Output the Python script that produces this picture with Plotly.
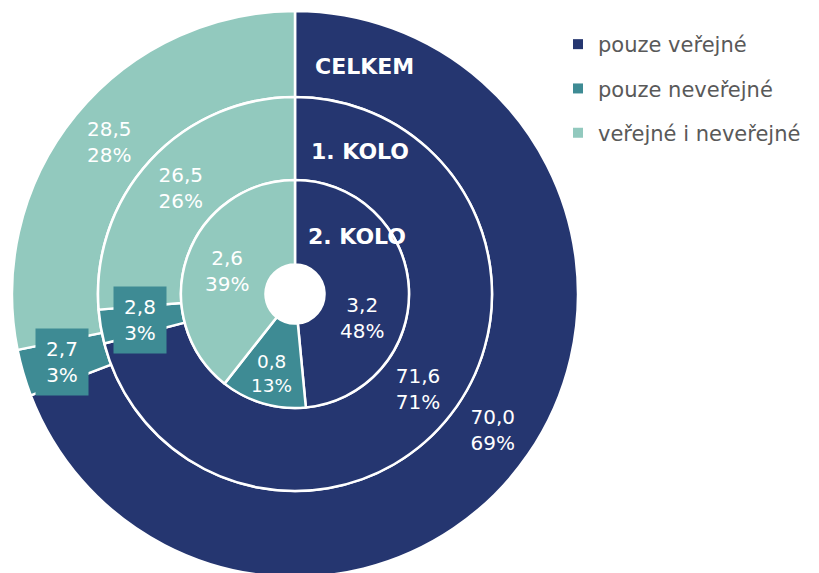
import math
import plotly.graph_objects as go

# ---------------- data ----------------
labels = ["pouze veřejné", "pouze neveřejné", "veřejné i neveřejné"]

celkem_values = [70.0, 2.7, 28.5]
celkem_pct = [69, 3, 28]

kolo1_values = [71.6, 2.8, 26.5]
kolo1_pct = [71, 3, 26]

kolo2_values = [3.2, 0.8, 2.6]
kolo2_pct = [48, 13, 39]

ring_titles = ["CELKEM", "1. KOLO", "2. KOLO"]

# ---------------- style / geometry ----------------
colors = ["#253670", "#3e8b94", "#92c9be"]
W, H = 819, 573
OFF = 8                    # page body margin
CXP, CYP = 295, 294        # pie centre on the page (px from top-left)
CX = CXP - OFF             # in figure px from left
CY = H - (CYP - OFF)       # in figure px from bottom
R_OUT, R_MID, R_IN, R_HOLE = 283, 197, 114, 29.5
FONT = "DejaVu Sans"


def dom(r):
    return dict(x=[(CX - r) / W, (CX + r) / W], y=[(CY - r) / H, (CY + r) / H])


def fmt(v):
    return f"{v:.1f}".replace(".", ",")


def ring(values, pct, r, r_in, custom):
    texts = ["" if i in custom else f"{fmt(v)}<br>{p}%"
             for i, (v, p) in enumerate(zip(values, pct))]
    return go.Pie(
        labels=labels, values=values, text=texts, textinfo="text",
        textposition="inside", insidetextorientation="horizontal",
        textfont=dict(family=FONT, size=20, color="white"),
        sort=False, direction="clockwise", rotation=0,
        hole=r_in / r, domain=dom(r),
        marker=dict(colors=colors, line=dict(color="white", width=2.5)),
        showlegend=False, hoverinfo="label+value+percent",
    )


fig = go.Figure()
fig.add_trace(ring(celkem_values, celkem_pct, R_OUT, R_MID, custom={1}))
fig.add_trace(ring(kolo1_values, kolo1_pct, R_MID, R_IN, custom={1}))
fig.add_trace(ring(kolo2_values, kolo2_pct, R_IN, R_HOLE, custom={0}))

# legend entries
for lab, col in zip(labels, colors):
    fig.add_trace(go.Scatter(
        x=[None], y=[None], mode="markers", name=lab, legendgroup=lab,
        marker=dict(symbol="square", size=10, color=col), showlegend=True,
    ))

annotations = []


def mid_pos(values, idx, r):
    tot = sum(values)
    start = sum(values[:idx]) / tot
    ang = (start + values[idx] / tot / 2) * 2 * math.pi
    return (CX + r * math.sin(ang)) / W, (CY + r * math.cos(ang)) / H


# boxed labels for thin slices
for values, pct, r in [(celkem_values, celkem_pct, (R_OUT + R_MID) / 2 + 3),
                       (kolo1_values, kolo1_pct, (R_MID + R_IN) / 2 + 2)]:
    x, y = mid_pos(values, 1, r)
    annotations.append(dict(
        x=x, y=y, xref="paper", yref="paper", showarrow=False,
        text=f"{fmt(values[1])}<br>{pct[1]}%",
        font=dict(family=FONT, size=20, color="white"),
        bgcolor=colors[1], borderpad=0, width=52, height=66,
        xanchor="center", yanchor="middle",
    ))

# inner-ring label moved below the "2. KOLO" title (as in the original)
annotations.append(dict(
    x=(362 - OFF) / W, y=1 - (318 - OFF) / H, xref="paper", yref="paper",
    showarrow=False, text=f"{fmt(kolo2_values[0])}<br>{kolo2_pct[0]}%",
    font=dict(family=FONT, size=20, color="white"),
    xanchor="center", yanchor="middle",
))

# ring titles (page px positions)
for t, (px, py) in zip(ring_titles, [(364, 66), (360, 151), (357, 237)]):
    annotations.append(dict(
        x=(px - OFF) / W, y=1 - (py - OFF) / H, xref="paper", yref="paper",
        showarrow=False, text=f"<b>{t}</b>",
        font=dict(family=FONT, size=22, color="white"),
        xanchor="center", yanchor="middle",
    ))

fig.update_layout(
    width=W, height=H,
    margin=dict(l=0, r=0, t=0, b=0),
    paper_bgcolor="white", plot_bgcolor="white",
    annotations=annotations,
    legend=dict(
        x=(558 - OFF) / W, y=1 - 16 / H, xanchor="left", yanchor="top",
        font=dict(family=FONT, size=21, color="#595959"),
        tracegroupgap=14, bgcolor="rgba(0,0,0,0)", traceorder="grouped",
    ),
    xaxis=dict(visible=False), yaxis=dict(visible=False),
)

fig.write_html("out.html")
